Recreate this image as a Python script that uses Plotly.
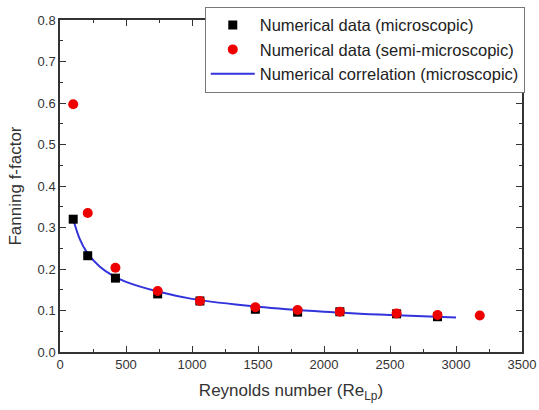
import plotly.graph_objects as go

# Numerical data (microscopic)
re_micro = [100, 210, 420, 740, 1060, 1480, 1800, 2120, 2550, 2860]
f_micro = [0.320, 0.232, 0.178, 0.140, 0.123, 0.103, 0.096, 0.097, 0.092, 0.085]

# Numerical data (semi-microscopic)
re_semi = [100, 210, 420, 740, 1060, 1480, 1800, 2120, 2550, 2860, 3180]
f_semi = [0.597, 0.335, 0.203, 0.147, 0.123, 0.108, 0.101, 0.097, 0.093, 0.089, 0.088]

# Numerical correlation (microscopic)
re_corr = [100, 150, 200, 300, 400, 500, 750, 1000, 1500, 2000, 2500, 3000]
f_corr = [0.320, 0.272, 0.242, 0.206, 0.184, 0.169, 0.145, 0.128, 0.109, 0.097, 0.089, 0.083]

x_ticks = [0, 500, 1000, 1500, 2000, 2500, 3000, 3500]
y_ticks = [0.0, 0.1, 0.2, 0.3, 0.4, 0.5, 0.6, 0.7, 0.8]

FONT = "Liberation Sans, Arial"

fig = go.Figure()
fig.add_trace(go.Scatter(x=re_corr, y=f_corr, mode="lines", line=dict(color="#3333dd", width=2, shape="spline"),
                         name="Numerical correlation (microscopic)", legendrank=3))
fig.add_trace(go.Scatter(x=re_micro, y=f_micro, mode="markers",
                         marker=dict(symbol="square", size=9, color="black"),
                         name="Numerical data (microscopic)", legendrank=1))
fig.add_trace(go.Scatter(x=re_semi, y=f_semi, mode="markers",
                         marker=dict(symbol="circle", size=10, color="#ee0000"),
                         name="Numerical data (semi-microscopic)", legendrank=2))

axis_common = dict(showline=True, linecolor="#333333", linewidth=1.5, mirror="allticks",
                   ticks="inside", ticklen=6, tickcolor="#333333", showgrid=False, zeroline=False,
                   automargin=False,
                   tickfont=dict(family=FONT, size=13, color="#333333"))

fig.update_xaxes(range=[0, 3500], tickvals=x_ticks, ticktext=[str(v) for v in x_ticks],
                 minor=dict(ticks="inside", ticklen=3, dtick=250, tickcolor="#333333"),
                 title=dict(text="Reynolds number (Re<sub>Lp</sub>)", font=dict(family=FONT, size=17, color="#333333"), standoff=13),
                 **axis_common)
fig.update_yaxes(range=[0, 0.8], tickvals=y_ticks, ticktext=[f"{v:.1f}" for v in y_ticks],
                 minor=dict(ticks="inside", ticklen=3, dtick=0.05, tickcolor="#333333"),
                 title=dict(text="Fanning f-factor", font=dict(family=FONT, size=17, color="#333333"), standoff=12),
                 **axis_common)

fig.update_layout(width=539, height=410, margin=dict(l=60, r=17, t=20, b=58, autoexpand=False),
                  plot_bgcolor="white", paper_bgcolor="white",
                  showlegend=True,
                  legend=dict(x=1.006, y=1.04, xanchor="right", yanchor="top", bgcolor="white",
                              bordercolor="#777777", borderwidth=1, tracegroupgap=0,
                              font=dict(family=FONT, size=16.5, color="#222222"),
                              itemwidth=44))

# Remove the browser's default body margin so the 539x410 figure fills the window exactly.
fig.write_html("out.html", config={"displayModeBar": False},
               post_script="document.body.style.margin='0';document.body.style.overflow='hidden';")
